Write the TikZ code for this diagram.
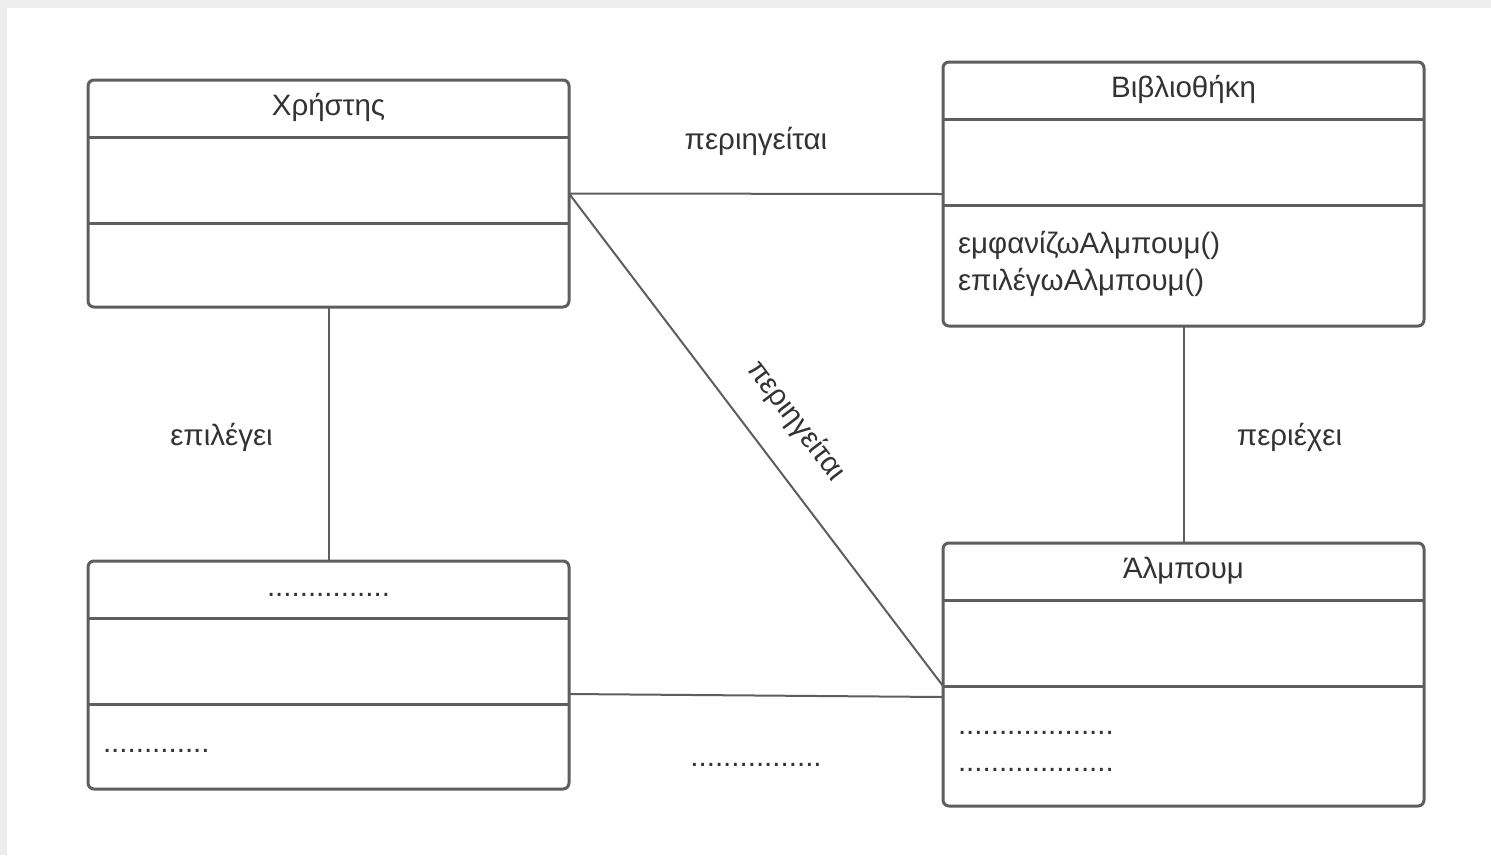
\documentclass[tikz,border=0pt]{standalone}
\usepackage{fontspec}
\setmainfont{Liberation Sans}
\definecolor{edge}{HTML}{5E5E5E}
\definecolor{ink}{HTML}{333333}
\definecolor{framegray}{HTML}{EDEDED}

\begin{document}
\begin{tikzpicture}[x=1pt,y=-1pt,
  umlclass/.style={draw=edge, line width=3pt, rounded corners=6pt, fill=white,
    outer sep=0pt, inner sep=0pt, minimum width=481pt},
  divider/.style={draw=edge, line width=3pt},
  assoc/.style={draw=edge, line width=2pt},
  txt/.style={text=ink, font=\fontsize{29.5}{34}\selectfont, inner sep=0pt, outer sep=0pt}]

% page background with a light frame along the top and left edges
\fill[white] (0,0) rectangle (1491,855);
\fill[framegray] (0,0) rectangle (1491,8);
\fill[framegray] (0,0) rectangle (7,855);
\useasboundingbox (0,0) rectangle (1491,855);

% class boxes
\node[umlclass, minimum height=227pt, anchor=north west] (user)  at (88,80)  {};
\node[umlclass, minimum height=264pt, anchor=north west] (lib)   at (943,62) {};
\node[umlclass, minimum height=228pt, anchor=north west] (other) at (88,561) {};
\node[umlclass, minimum height=263pt, anchor=north west] (album) at (943,543) {};

% compartment dividers
\foreach \c in {user,lib,other,album}{
  \draw[divider] ([yshift=-57pt]\c.north west) -- ([yshift=-57pt]\c.north east);
  \draw[divider] ([yshift=-143pt]\c.north west) -- ([yshift=-143pt]\c.north east);
}

% class names
\node[txt, anchor=base] (user-name)  at ([yshift=-35pt]user.north)  {Χρήστης};
\node[txt, anchor=base] (lib-name)   at ([yshift=-35pt]lib.north)   {Βιβλιοθήκη};
\node[txt, anchor=base] (other-name) at ([yshift=-35pt]other.north) {...............};
\node[txt, anchor=base] (album-name) at ([yshift=-35pt]album.north) {Άλμπουμ};

% operations and attributes
\node[txt, anchor=base west] (lib-op1) at ([xshift=15pt,yshift=-191pt]lib.north west) {εμφανίζωΑλμπουμ()};
\node[txt, anchor=base west] (lib-op2) at ([xshift=15pt,yshift=-228pt]lib.north west) {επιλέγωΑλμπουμ()};
\node[txt, anchor=base west] (album-at1) at ([xshift=15pt,yshift=-191pt]album.north west) {...................};
\node[txt, anchor=base west] (album-at2) at ([xshift=15pt,yshift=-228pt]album.north west) {...................};
\node[txt, anchor=base west] (other-at1) at ([xshift=15pt,yshift=-191pt]other.north west) {.............};

% associations
\coordinate (album-div) at ([yshift=-143pt]album.north west);
\coordinate (other-out) at ([yshift=-133pt]other.north east);
\coordinate (album-in)  at ([yshift=-154pt]album.north west);

\draw[assoc] (user.east) -- (lib.west)
  node[txt, midway, anchor=base, yshift=44pt] (l-browse1) {περιηγείται};
\draw[assoc] (user.east) -- (album-div)
  node[txt, pos=0.515, sloped, anchor=base, yshift=35pt] (l-browse2) {περιηγείται};
\draw[assoc] (user.south) -- (other.north)
  node[txt, midway, anchor=base, xshift=-107pt, yshift=-11pt] (l-select) {επιλέγει};
\draw[assoc] (lib.south) -- (album.north)
  node[txt, midway, anchor=base, xshift=106pt, yshift=-11pt] (l-contain) {περιέχει};
\draw[assoc] (other-out) -- (album-in)
  node[txt, midway, anchor=base, yshift=-71pt] (l-other) {................};
\end{tikzpicture}
\end{document}
